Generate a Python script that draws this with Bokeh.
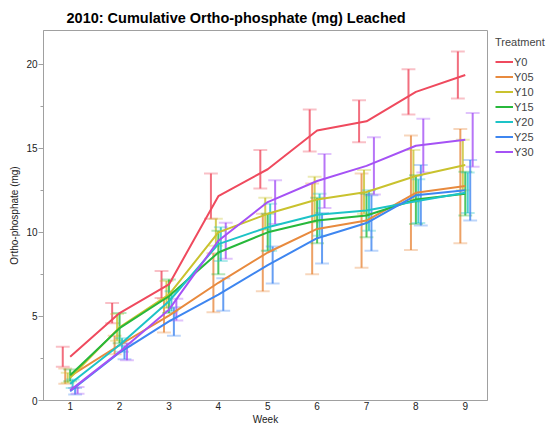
from bokeh.plotting import figure
from bokeh.models import (FixedTicker, Legend, LegendItem, Range1d, ColumnDataSource)
from bokeh.embed import file_html
from bokeh.resources import INLINE

weeks = [1, 2, 3, 4, 5, 6, 7, 8, 9]
treatments = ["Y0", "Y05", "Y10", "Y15", "Y20", "Y25", "Y30"]
colors = ["#EF4A5E", "#E88A3E", "#C9C22E", "#27B83B", "#1DC3C7", "#3E86F0", "#A552F5"]

y0_mean = [2.6, 5.2, 6.9, 12.15, 13.75, 16.05, 16.6, 18.35, 19.35]
y0_se = [0.6, 0.6, 0.8, 1.35, 1.15, 1.25, 1.25, 1.35, 1.4]
y05_mean = [1.45, 3.3, 5.05, 7.0, 8.8, 10.2, 10.7, 12.35, 12.75]
y05_se = [0.45, 0.55, 1.0, 1.75, 2.3, 2.7, 2.8, 3.4, 3.4]
y10_mean = [1.35, 4.35, 6.3, 10.0, 11.1, 11.95, 12.4, 13.35, 14.0]
y10_se = [0.3, 0.8, 0.8, 0.8, 0.95, 1.35, 1.3, 1.55, 1.5]
y15_mean = [1.5, 4.3, 6.2, 8.8, 10.0, 10.7, 11.0, 11.95, 12.3]
y15_se = [0.35, 0.9, 1.0, 1.3, 1.1, 1.35, 1.3, 1.45, 1.3]
y20_mean = [1.0, 3.3, 5.9, 9.3, 10.3, 11.05, 11.3, 11.85, 12.35]
y20_se = [0.25, 0.4, 0.6, 1.0, 1.4, 1.25, 1.2, 1.3, 1.2]
y25_mean = [0.55, 2.85, 4.7, 6.3, 8.05, 9.65, 10.55, 12.2, 12.5]
y25_se = [0.2, 0.4, 0.85, 0.97, 1.1, 1.5, 1.65, 1.8, 1.8]
y30_mean = [0.6, 2.9, 5.4, 9.5, 11.8, 13.05, 13.95, 15.15, 15.5]
y30_se = [0.2, 0.5, 0.65, 1.07, 1.3, 1.6, 1.7, 1.6, 1.6]

y_ticks = [0, 5, 10, 15, 20]
y_minor_ticks = [2.5, 7.5, 12.5, 17.5]

means = [y0_mean, y05_mean, y10_mean, y15_mean, y20_mean, y25_mean, y30_mean]
ses = [y0_se, y05_se, y10_se, y15_se, y20_se, y25_se, y30_se]

FONT = "Liberation Sans"

p = figure(frame_width=444, frame_height=370, output_backend="svg", toolbar_location=None,
           x_range=Range1d(0.46, 9.45), y_range=Range1d(0, 22.0),
           min_border_left=43, min_border_right=59, min_border_top=30, min_border_bottom=25)
p.title.text = "2010: Cumulative Ortho-phosphate (mg) Leached"
p.title.text_font = FONT
p.title.text_font_size = "14.5px"
p.title.text_font_style = "bold"
p.title.align = "left"
p.title.offset = 23
p.title.text_color = "#000000"

p.xgrid.visible = False
p.ygrid.visible = False
p.outline_line_color = "#a0a0a0"
p.outline_line_width = 1

p.xaxis.ticker = FixedTicker(ticks=weeks)
p.yaxis.ticker = FixedTicker(ticks=y_ticks, minor_ticks=y_minor_ticks)
for ax in (p.xaxis[0], p.yaxis[0]):
    ax.axis_line_color = "#a0a0a0"
    ax.major_tick_line_color = "#a0a0a0"
    ax.minor_tick_line_color = "#a0a0a0"
    ax.major_label_text_font = FONT
    ax.major_label_text_font_size = "10px"
    ax.major_label_text_color = "#222222"
    ax.axis_label_text_font = FONT
    ax.axis_label_text_font_size = "10px"
    ax.axis_label_text_font_style = "normal"
    ax.axis_label_text_color = "#222222"
p.xaxis.axis_label = "Week"
p.yaxis.axis_label = "Ortho-phosphate (mg)"
p.xaxis.major_tick_out = 0
p.xaxis.major_tick_in = 0
p.xaxis.minor_tick_out = 0
p.xaxis.major_label_standoff = 1
p.xaxis.axis_label_standoff = 1
p.yaxis.major_tick_out = 5
p.yaxis.major_tick_in = 0
p.yaxis.minor_tick_out = 3
p.yaxis.minor_tick_in = 0
p.yaxis.major_label_standoff = 1
p.yaxis.axis_label_standoff = 3

items = []
n = len(treatments)
for i, (name, col, m, s) in enumerate(zip(treatments, colors, means, ses)):
    off = (i - (n - 1) / 2) * 0.05
    xs = [w + off for w in weeks]
    lo = [a - b for a, b in zip(m, s)]
    hi = [a + b for a, b in zip(m, s)]
    src = ColumnDataSource(dict(x=xs, lo=lo, hi=hi, x0=[x - 0.14 for x in xs], x1=[x + 0.14 for x in xs]))
    p.segment(x0="x", y0="lo", x1="x", y1="hi", source=src, line_color=col, line_width=2, line_alpha=0.8)
    p.segment(x0="x0", y0="lo", x1="x1", y1="lo", source=src, line_color=col, line_width=2, line_alpha=0.35)
    p.segment(x0="x0", y0="hi", x1="x1", y1="hi", source=src, line_color=col, line_width=2, line_alpha=0.35)

for i, (name, col, m) in enumerate(zip(treatments, colors, means)):
    r = p.line(weeks, m, line_color=col, line_width=2)
    items.append(LegendItem(label=name, renderers=[r]))

legend = Legend(items=items, title="Treatment", location=(8, 241))
legend.title_text_font = FONT
legend.title_text_font_size = "11px"
legend.title_text_font_style = "normal"
legend.title_standoff = 6
legend.label_text_font = FONT
legend.label_text_font_size = "11px"
legend.glyph_width = 18
legend.glyph_height = 15
legend.label_height = 15
legend.spacing = 0
legend.label_standoff = 1
legend.padding = 4
legend.margin = 0
legend.border_line_color = None
legend.background_fill_alpha = 0
p.add_layout(legend, "right")

open("out.html", "w").write(file_html(p, INLINE))
